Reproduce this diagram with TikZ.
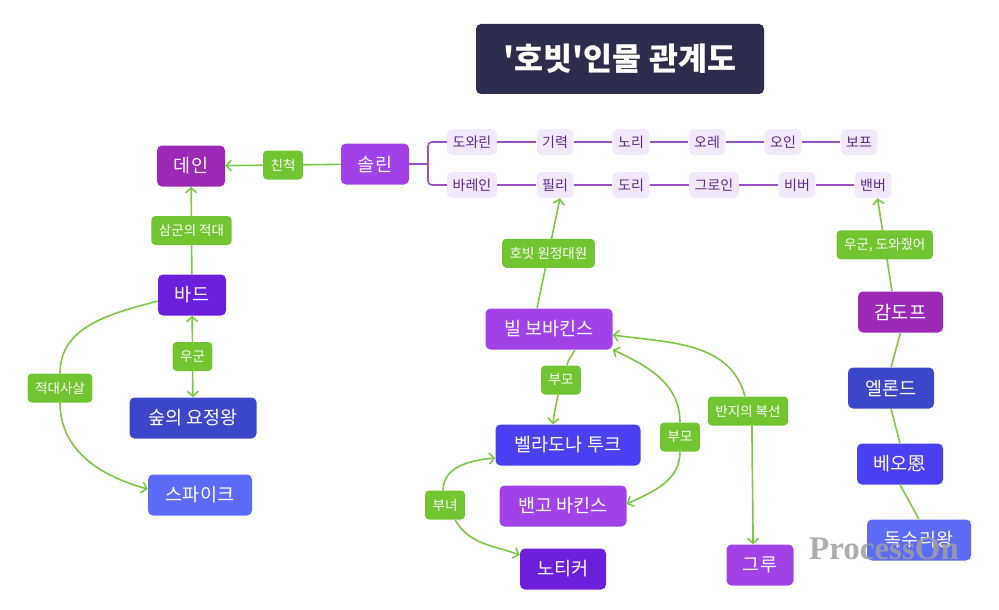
\documentclass[tikz,border=0pt]{standalone}
\usepackage{fontspec}
\setmainfont{Noto Sans CJK KR}
\newfontfamily\titlefont{Noto Sans CJK KR}[Ligatures=TeXOff]
\newfontfamily\wmfont{Liberation Serif}
\usetikzlibrary{arrows.meta}
\definecolor{ttl}{HTML}{2E2C4C}
\definecolor{cmag}{HTML}{9C29B5}
\definecolor{cpur}{HTML}{A142E8}
\definecolor{cvio}{HTML}{6B1FDB}
\definecolor{cblu}{HTML}{3B47C8}
\definecolor{cbv}{HTML}{4B3FF2}
\definecolor{clb}{HTML}{5B6BF5}
\definecolor{glab}{HTML}{70C530}
\definecolor{gedge}{HTML}{7AC943}
\definecolor{tagfill}{HTML}{F1E8FB}
\definecolor{tagtext}{HTML}{5B2A86}
\definecolor{pedge}{HTML}{9A50C8}
\begin{document}
\begin{tikzpicture}[x=1pt,y=1pt,
  base/.style={rounded corners=5pt, text=white, align=center, inner sep=0pt,
    minimum height=41pt, font=\fontsize{18.5}{21}\selectfont},
  tag/.style={rounded corners=5pt, fill=tagfill, text=tagtext, inner xsep=5.5pt,
    inner ysep=0pt, minimum height=26pt, font=\fontsize{14}{16}\selectfont},
  glabel/.style={rounded corners=4pt, fill=glab, text=white, inner xsep=7.5pt,
    inner ysep=0pt, minimum height=29pt, font=\fontsize{13.5}{15}\selectfont},
  gline/.style={draw=gedge, line width=1.6pt},
  garr/.style={gline, -{Straight Barb[length=5pt,width=11pt]}},
  garr2/.style={gline, {Straight Barb[length=5pt,width=11pt]}-{Straight Barb[length=5pt,width=11pt]}},
  pline/.style={draw=pedge, line width=1.6pt}
]
\useasboundingbox (0,0) rectangle (999,-610);

% title
\node[base, fill=ttl, minimum width=288pt, minimum height=70pt,
  font=\titlefont\bfseries\fontsize{31.5}{35}\selectfont] (title) at (620,-59) {'호빗'인물 관계도};

% main nodes
\node[base, fill=cmag, minimum width=68pt] (dane) at (191,-166) {데인};
\node[base, fill=cpur, minimum width=68pt] (sollin) at (375,-164) {솔린};
\node[base, fill=cvio, minimum width=68pt] (bard) at (192,-295) {바드};
\node[base, fill=cblu, minimum width=127pt] (forest) at (193,-418) {숲의 요정왕};
\node[base, fill=clb, minimum width=104pt] (spike) at (200,-495) {스파이크};
\node[base, fill=cpur, minimum width=127pt] (bilbo) at (549,-329) {빌 보바킨스};
\node[base, fill=cbv, minimum width=145pt] (bella) at (568,-445) {벨라도나 투크};
\node[base, fill=cpur, minimum width=127pt] (bungo) at (563,-506) {밴고 바킨스};
\node[base, fill=cvio, minimum width=86pt] (noti) at (563,-569) {노티커};
\node[base, fill=cpur, minimum width=67pt] (gru) at (760,-565) {그루};
\node[base, fill=cmag, minimum width=85pt] (gandalf) at (900.5,-312) {감도프};
\node[base, fill=cblu, minimum width=86pt] (elrond) at (891,-388) {엘론드};
\node[base, fill=cbv, minimum width=86pt] (beorn) at (900,-464) {베오恩};
\node[base, fill=clb, minimum width=104pt] (eagle) at (919,-540) {독수리왕};

% dwarf tags
\node[tag] (dowarin) at (472,-142) {도와린};
\node[tag] (gilyeok) at (555,-142) {기력};
\node[tag] (nori) at (631,-142) {노리};
\node[tag] (ore) at (707,-142) {오레};
\node[tag] (oin) at (783,-142) {오인};
\node[tag] (bop) at (859,-142) {보프};
\node[tag] (barein) at (472,-185) {바레인};
\node[tag] (pili) at (555,-185) {필리};
\node[tag] (dori) at (631,-185) {도리};
\node[tag] (groin) at (714,-185) {그로인};
\node[tag] (bibeo) at (797,-185) {비버};
\node[tag] (baenbeo) at (873,-185) {밴버};

\coordinate (brk) at (428,-164);
\draw[pline] (sollin.east) -- (brk);
\draw[pline, rounded corners=4pt] (dowarin.west) -| (brk) |- (barein.west);
\draw[pline] (dowarin) -- (gilyeok) -- (nori) -- (ore) -- (oin) -- (bop);
\draw[pline] (barein) -- (pili) -- (dori) -- (groin) -- (bibeo) -- (baenbeo);

% left connectors
\draw[garr] (sollin) -- node[glabel] (kin) {친척} (dane);
\draw[garr] (bard) -- node[glabel] (enemy) {삼군의 적대} (dane);
\draw[garr2] (bard) -- node[glabel] (ally) {우군} (forest);
\node[glabel] (kill) at (60,-388) {적대사살};
\draw[gline] (bard.190) to[out=195,in=90] (kill.north);
\draw[garr] (kill.south) to[out=-90,in=165] ([yshift=6pt]spike.west);

% middle connectors
\draw[garr] ([xshift=-12pt]bilbo.north) -- node[glabel] (exped) {호빗 원정대원} ([xshift=5pt]pili.south);
\node[glabel] (par1) at (561,-380) {부모};
\draw[gline] ([xshift=26pt]bilbo.south) to[out=-115,in=80] ([xshift=6pt]par1.north);
\draw[garr] ([xshift=-3pt]par1.south) to[out=-100,in=85] ([xshift=-15pt]bella.north);
\node[glabel] (par2) at (680,-437) {부모};
\draw[garr] (par2.north) to[out=90,in=-25] (bilbo.south east);
\draw[garr] (par2.south) to[out=-90,in=25] ([yshift=2pt]bungo.east);
\node[glabel] (ring) at (748,-411) {반지의 복선};
\draw[garr] ([xshift=-3pt]ring.north) to[out=105,in=-8] ([yshift=-6pt]bilbo.east);
\draw[garr] ([xshift=4pt]ring.south) to[out=-90,in=90] ([xshift=-7pt]gru.north);
\node[glabel] (dau) at (445,-505) {부녀};
\draw[garr] ([xshift=-2pt]dau.north) to[out=90,in=185] ([yshift=-13pt]bella.west);
\draw[garr] ([xshift=10pt]dau.south) to[out=-60,in=160] ([yshift=14pt]noti.west);

% right connectors
\draw[garr] ([xshift=-8.5pt]gandalf.north) -- node[glabel] (helped) {우군, 도와줬어} ([xshift=4.5pt]baenbeo.south);
\draw[gline] (gandalf.south) -- (elrond.north);
\draw[gline] (elrond.south) -- (beorn.north);
\draw[gline] (beorn.south) -- (eagle.north);

% watermark
\node[font=\wmfont\bfseries\fontsize{33}{36}\selectfont, text=gray!75, opacity=0.85] (wm) at (884,-549) {ProcessOn};
\end{tikzpicture}
\end{document}
